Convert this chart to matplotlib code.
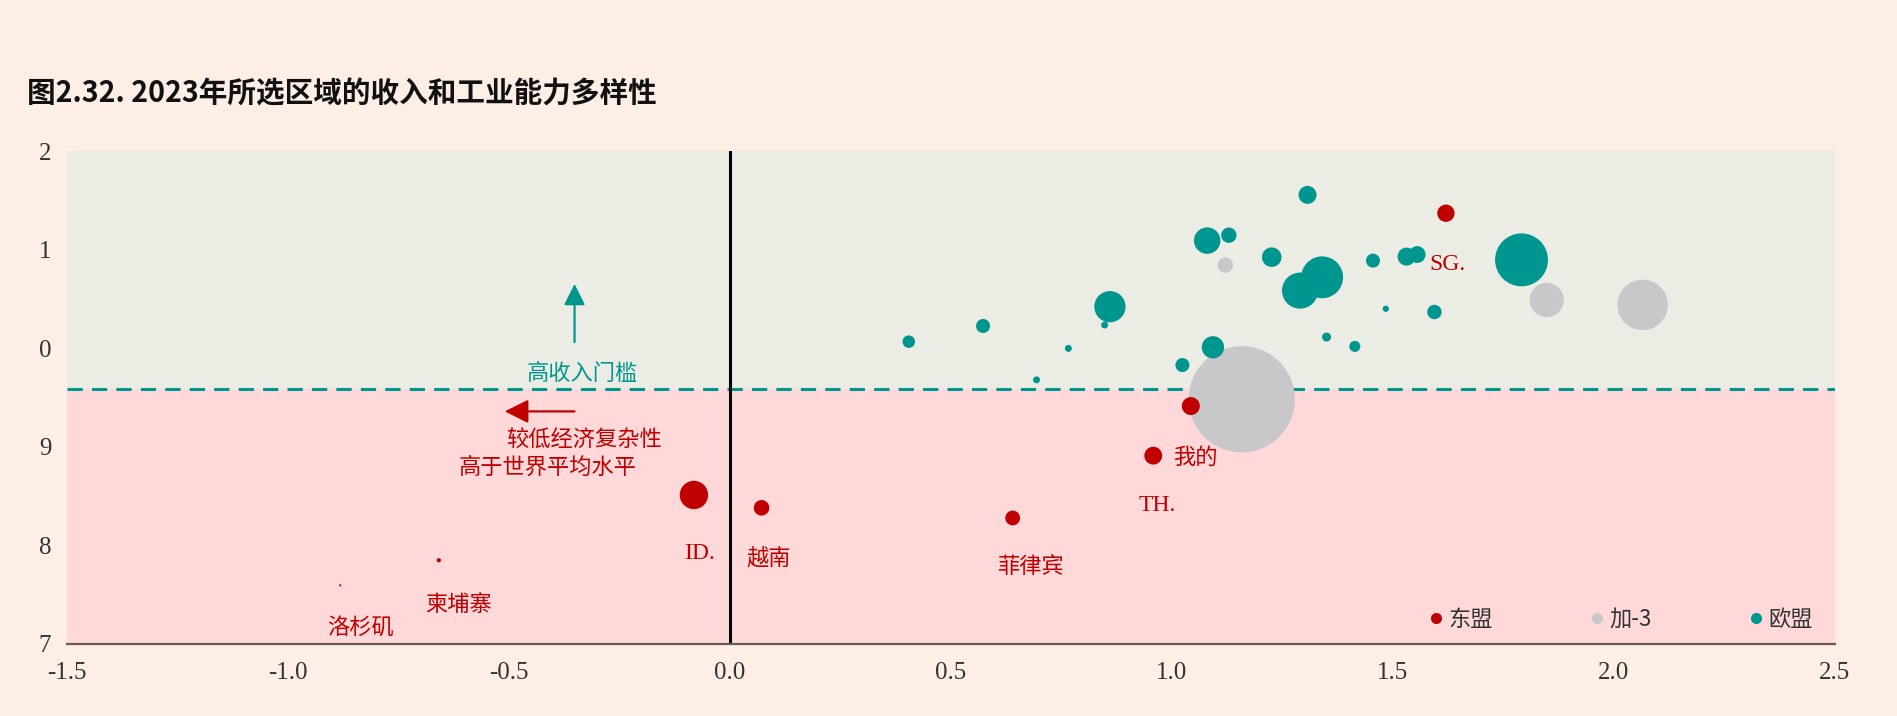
import matplotlib
matplotlib.use("Agg")
import matplotlib.pyplot as plt
from matplotlib.lines import Line2D

# ---- data (x: economic complexity, y: log GDP per capita) -----------------
groups = ["东盟", "加-3", "欧盟"]

asean_x = [1.620, 1.043, 0.958, -0.081, 0.072, 0.640, -0.658, -0.881]
asean_y = [11.369, 9.413, 8.910, 8.511, 8.381, 8.278, 7.849, 7.595]
asean_w = [52, 56, 55, 139, 42, 38, 3.2, 0.8]

plus3_x = [1.121, 1.158, 1.848, 2.065]
plus3_y = [10.842, 9.482, 10.489, 10.439]
plus3_w = [41, 1954, 202, 441]

eu_x = [0.405, 0.573, 0.694, 0.766, 0.848, 0.860, 1.024, 1.093, 1.080, 1.129, 1.226,
        1.307, 1.290, 1.340, 1.350, 1.414, 1.455, 1.484, 1.531, 1.555, 1.594, 1.791]
eu_y = [10.066, 10.225, 9.679, 9.998, 10.235, 10.421, 9.829, 10.009, 11.091, 11.146, 10.923,
        11.555, 10.584, 10.719, 10.113, 10.018, 10.888, 10.400, 10.929, 10.950, 10.367, 10.896]
eu_w = [27, 34, 8.4, 8.4, 8.4, 169, 34, 86, 121, 41, 66,
        56, 225, 303, 14, 21, 34, 6.8, 56, 49, 36, 484]

high_income = 9.59
xticks = [-1.5, -1.0, -0.5, 0.0, 0.5, 1.0, 1.5, 2.0, 2.5]
xtick_labels = ["-1.5", "-1.0", "-0.5", "0.0", "0.5", "1.0", "1.5", "2.0", "2.5"]
yticks = [7, 8, 9, 10, 11, 12]
ytick_labels = ["7", "8", "9", "0", "1", "2"]

# ---- style ----------------------------------------------------------------
BG = "#FDEEE6"
UPPER = "#EBEDE5"
LOWER = "#FFD9D9"
RED = "#C00000"
GREY = "#C8C8CA"
TEAL = "#009690"
TXT = "#333333"
CJK = ["Noto Sans CJK SC", "DejaVu Sans"]
SERIF = ["Liberation Serif", "DejaVu Serif"]
plt.rcParams["font.family"] = CJK
K = 3.0  # bubble area scale

fig = plt.figure(figsize=(18.97, 7.16), dpi=100, facecolor=BG)
ax = fig.add_axes([0.0351, 0.1006, 0.9322, 0.6885])
ax.set_facecolor(BG)
ax.set_xlim(-1.5, 2.5)
ax.set_ylim(7, 12)

ax.axhspan(high_income, 12, color=UPPER, zorder=0, lw=0)
ax.axhspan(7, high_income, color=LOWER, zorder=0, lw=0)
ax.axhline(high_income, color=TEAL, lw=2.2, ls=(0, (5, 3)), zorder=1)
ax.axvline(0, color="black", lw=2.2, zorder=1)

ax.scatter(plus3_x, plus3_y, s=[w * K for w in plus3_w], color=GREY, lw=0, zorder=2)
ax.scatter(eu_x, eu_y, s=[w * K for w in eu_w], color=TEAL, lw=0, zorder=3)
ax.scatter(asean_x, asean_y, s=[w * K for w in asean_w], color=RED, lw=0, zorder=4)

for sp in ["top", "right", "left"]:
    ax.spines[sp].set_visible(False)
ax.spines["bottom"].set_color("#6A5A5A")
ax.spines["bottom"].set_linewidth(1.6)

ax.set_xticks(xticks)
ax.set_xticklabels(xtick_labels)
ax.set_yticks(yticks)
ax.set_yticklabels(ytick_labels)
ax.tick_params(length=0, labelsize=18, labelcolor=TXT)
ax.tick_params(axis="x", pad=13)
ax.tick_params(axis="y", pad=11)
for lab in ax.get_xticklabels() + ax.get_yticklabels():
    lab.set_family(SERIF)

# country labels
labels_cjk = [("越南", 0.087, 7.86), ("菲律宾", 0.681, 7.786), ("我的", 1.053, 8.892),
              ("柬埔寨", -0.614, 7.405), ("洛杉矶", -0.835, 7.160)]
for t, x, y in labels_cjk:
    ax.text(x, y, t, color=RED, fontsize=16, ha="center", va="center", zorder=5)
for t, x, y in [("ID.", -0.069, 7.921), ("TH.", 0.968, 8.40), ("SG.", 1.624, 10.845)]:
    ax.text(x, y, t, color=RED, fontsize=17, ha="center", va="center", family=SERIF, zorder=5)

# threshold / complexity annotations
ax.annotate("", xy=(-0.351, 10.68), xytext=(-0.351, 10.034),
            arrowprops=dict(arrowstyle="-|>", color=TEAL, lw=1.6, mutation_scale=32))
ax.text(-0.334, 9.74, "高收入门槛", color=TEAL, fontsize=16, ha="center", va="center")
ax.annotate("", xy=(-0.515, 9.359), xytext=(-0.345, 9.359),
            arrowprops=dict(arrowstyle="-|>", color=RED, lw=1.6, mutation_scale=36))
ax.text(-0.329, 9.076, "较低经济复杂性", color=RED, fontsize=16, ha="center", va="center")
ax.text(-0.411, 8.794, "高于世界平均水平", color=RED, fontsize=16, ha="center", va="center")

# legend
handles = [Line2D([], [], marker="o", ls="", color=c, markersize=8, markeredgewidth=0)
           for c in [RED, GREY, TEAL]]
leg = ax.legend(handles, groups, ncol=3, loc="lower right", bbox_to_anchor=(0.995, 0.0),
                frameon=False, fontsize=16, handlelength=0.6, handletextpad=0.25,
                columnspacing=4.4, borderaxespad=0.2)
for t in leg.get_texts():
    t.set_color(TXT)

fig.text(0.014, 0.870, "图2.32. 2023年所选区域的收入和工业能力多样性", fontsize=20.6,
         fontweight="bold", color="#111111", ha="left", va="center")

fig.savefig("out.png", dpi=100, facecolor=BG)
